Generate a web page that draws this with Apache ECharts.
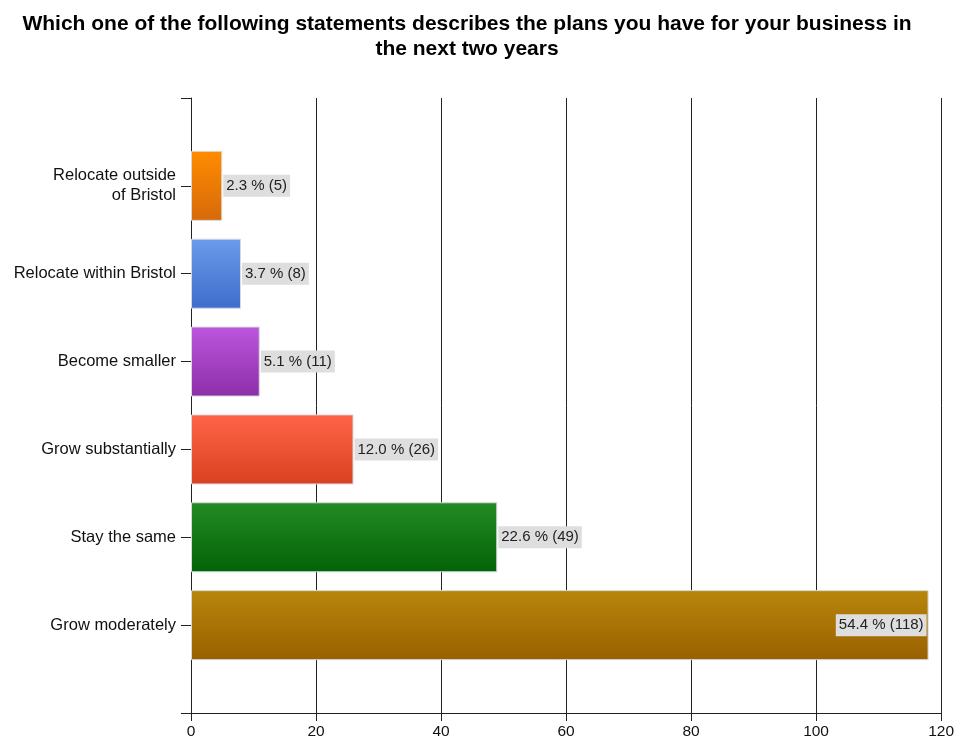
<!DOCTYPE html>
<html>
<head>
<meta charset="utf-8">
<script src="https://cdn.jsdelivr.net/npm/echarts@6/dist/echarts.min.js"></script>
<style>
  html, body { margin: 0; padding: 0; background: #fff; }
  #chart { width: 957px; height: 740px; }
</style>
</head>
<body>
<div id="chart"></div>
<script>
// Survey answers, listed top to bottom
const categories = [
  'Relocate outside\nof Bristol',
  'Relocate within Bristol',
  'Become smaller',
  'Grow substantially',
  'Stay the same',
  'Grow moderately'
];
const counts = [5, 8, 11, 26, 49, 118];
const percents = ['2.3', '3.7', '5.1', '12.0', '22.6', '54.4'];
const xTicks = [0, 20, 40, 60, 80, 100, 120];
const titleText = 'Which one of the following statements describes the plans you have for your business in\nthe next two years';

// Per-bar gradient colours (top, bottom)
const barColors = [
  ['#ff8c00', '#d6690a'],
  ['#6b9bea', '#3e6dcb'],
  ['#bc56de', '#8d2ea8'],
  ['#ff6448', '#d94120'],
  ['#238b23', '#036207'],
  ['#b8860b', '#9a6000']
];

const FONT = 'Liberation Sans, Arial, sans-serif';

// An empty slot above and below leaves half a band of space at each end
const axisData = [''].concat(categories, ['']);
const seriesData = [null];
counts.forEach(function (v, i) {
  const last = i === counts.length - 1;
  seriesData.push({
    value: v,
    itemStyle: {
      color: new echarts.graphic.LinearGradient(0, 0, 0, 1, [
        { offset: 0, color: barColors[i][0] },
        { offset: 1, color: barColors[i][1] }
      ]),
      borderColor: '#d9d9d9',
      borderWidth: 1
    },
    label: {
      position: last ? 'insideRight' : 'right',
      distance: last ? 2 : 1
    }
  });
});
seriesData.push(null);

const chart = echarts.init(document.getElementById('chart'), null, { renderer: 'canvas' });
chart.setOption({
  animation: false,
  backgroundColor: '#ffffff',
  graphic: [{
    type: 'text',
    x: 467,
    y: 12,
    style: {
      text: titleText,
      textAlign: 'center',
      textVerticalAlign: 'top',
      fontFamily: FONT,
      fontSize: 21,
      fontWeight: 'bold',
      lineHeight: 25,
      fill: '#000'
    }
  }],
  grid: { left: 191, right: 15, top: 98, bottom: 27 },
  xAxis: {
    type: 'value',
    min: xTicks[0],
    max: xTicks[xTicks.length - 1],
    interval: xTicks[1] - xTicks[0],
    axisLine: { show: true, lineStyle: { color: '#222', width: 1 } },
    axisTick: { show: true, length: 8, lineStyle: { color: '#222' } },
    axisLabel: {
      margin: 11,
      color: '#111',
      fontSize: 15.5,
      fontFamily: FONT
    },
    splitLine: { show: true, lineStyle: { color: '#222', width: 1 } }
  },
  yAxis: {
    type: 'category',
    inverse: true,
    boundaryGap: false,
    data: axisData,
    axisLine: { show: true, lineStyle: { color: '#222', width: 1 } },
    axisTick: { show: true, length: 10, lineStyle: { color: '#222' } },
    axisLabel: {
      margin: 15,
      color: '#111',
      fontSize: 16.5,
      lineHeight: 20,
      align: 'right',
      fontFamily: FONT,
      interval: 0
    },
    splitLine: { show: false }
  },
  series: [{
    type: 'bar',
    data: seriesData,
    barWidth: 70,
    label: {
      show: true,
      formatter: function (p) {
        const i = p.dataIndex - 1;
        return percents[i] + ' % (' + counts[i] + ')';
      },
      backgroundColor: '#dedede',
      padding: [3, 3, 2, 3],
      lineHeight: 17,
      color: '#222',
      fontSize: 15,
      fontFamily: FONT
    }
  }]
});
</script>
</body>
</html>
